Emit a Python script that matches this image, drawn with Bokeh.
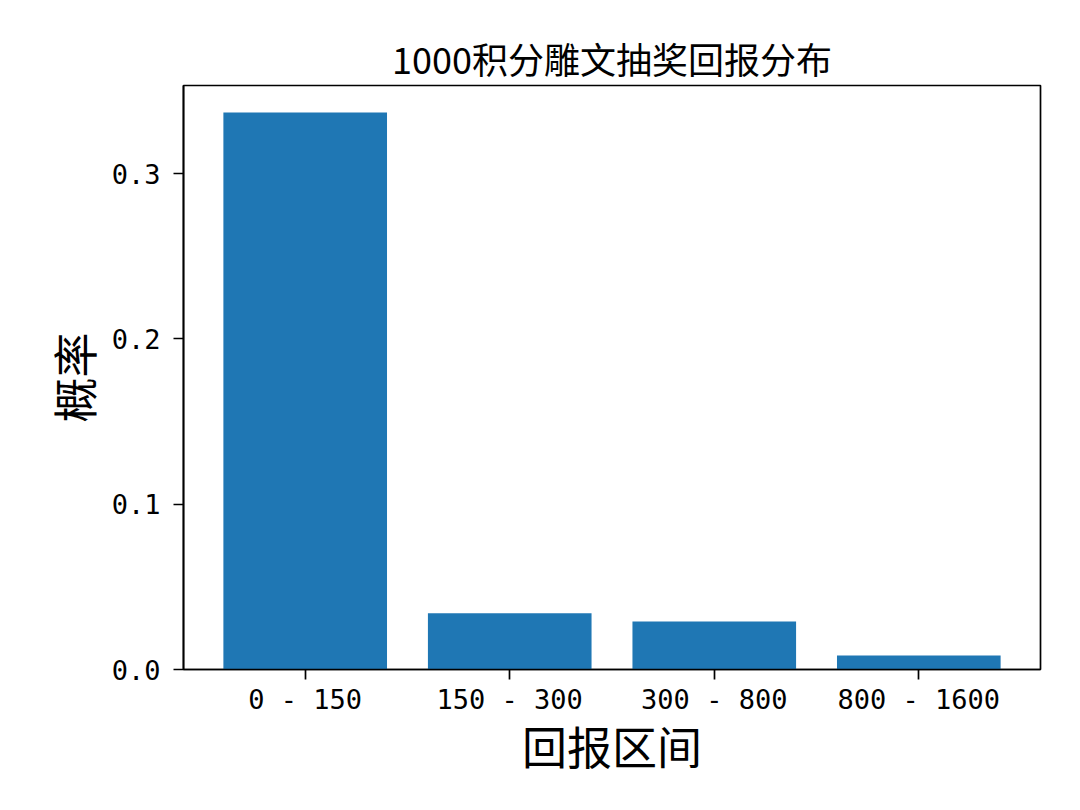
from bokeh.plotting import figure
from bokeh.models import Range1d, FixedTicker, PrintfTickFormatter, ColumnDataSource
from bokeh.embed import file_html
from bokeh.resources import INLINE

categories = ["0 - 150", "150 - 300", "300 - 800", "800 - 1600"]
probabilities = [0.337, 0.034, 0.029, 0.0085]
y_ticks = [0.0, 0.1, 0.2, 0.3]

title_text = "1000积分雕文抽奖回报分布"
x_label = "回报区间"
y_label = "概率"

xs = list(range(len(categories)))
src = ColumnDataSource(dict(x=xs, top=probabilities))

p = figure(width=1072, height=802, output_backend="svg", toolbar_location=None,
           x_range=Range1d(-0.595, len(categories) - 1 + 0.595),
           y_range=Range1d(0, 0.3533),
           min_border_left=183, min_border_right=32,
           min_border_top=85, min_border_bottom=133,
           title=title_text)

p.vbar(x="x", top="top", width=0.8, source=src, color="#1f77b4", line_color=None)

p.title.align = "center"
p.title.text_font = "Noto Sans CJK SC"
p.title.text_font_size = "36px"
p.title.text_font_style = "normal"
p.title.text_color = "black"
p.title.standoff = 3

p.grid.visible = False
p.outline_line_color = "black"
p.outline_line_width = 1.7
p.background_fill_color = "white"
p.border_fill_color = "white"

p.xaxis.ticker = FixedTicker(ticks=xs)
p.xaxis.major_label_overrides = {i: c for i, c in zip(xs, categories)}
p.yaxis.ticker = FixedTicker(ticks=y_ticks)
p.yaxis.formatter = PrintfTickFormatter(format="%.1f")

for ax in (p.xaxis[0], p.yaxis[0]):
    ax.axis_line_color = "black"
    ax.axis_line_width = 1.7
    ax.major_tick_line_color = "black"
    ax.major_tick_line_width = 1.7
    ax.major_tick_out = 10
    ax.major_tick_in = 0
    ax.minor_tick_line_color = None
    ax.major_label_text_font = "DejaVu Sans Mono"
    ax.major_label_text_font_size = "27px"
    ax.major_label_text_color = "black"
    ax.axis_label_text_font = "Noto Sans CJK SC"
    ax.axis_label_text_font_size = "45px"
    ax.axis_label_text_font_style = "normal"
    ax.axis_label_text_color = "black"

p.xaxis.major_label_standoff = 4
p.yaxis.major_label_standoff = 13
p.xaxis.axis_label = x_label
p.yaxis.axis_label = y_label
p.xaxis.axis_label_standoff = -5
p.yaxis.axis_label_standoff = 3

open("out.html", "w").write(file_html(p, INLINE))
